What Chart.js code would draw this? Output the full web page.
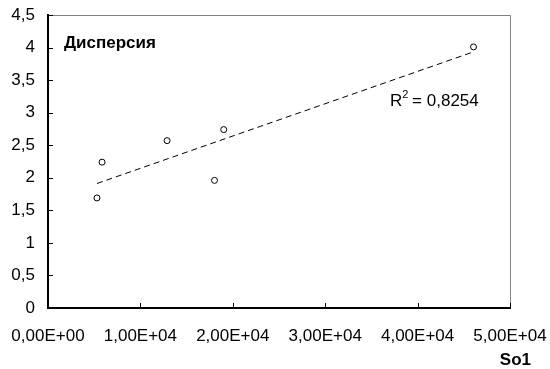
<!DOCTYPE html>
<html>
<head>
<meta charset="utf-8">
<script src="https://cdn.jsdelivr.net/npm/chart.js@4"></script>
<style>
  html, body { margin: 0; padding: 0; background: #fff; }
  #wrap { width: 550px; height: 369px; }
</style>
</head>
<body>
<div id="wrap"><canvas id="myChart" width="550" height="369"></canvas></div>
<script>
'use strict';

// So1 values and the variance (Дисперсия)
let so1 = [5300, 5850, 12890, 18020, 19020, 46050];
let dispersion = [1.69, 2.24, 2.57, 1.96, 2.74, 4.01];
let yTicks = [0, 0.5, 1, 1.5, 2, 2.5, 3, 3.5, 4, 4.5];
let xTicks = [0, 10000, 20000, 30000, 40000, 50000];
let titleText = 'Дисперсия';
let xTitle = 'So1';
let rSquared = '0,8254';

const FONT = "'Liberation Sans', Arial, sans-serif";

// linear trend through the points (like the spreadsheet trendline)
function trendLine(xs, ys) {
    let n = xs.length;
    let mx = xs.reduce((a, b) => a + b, 0) / n;
    let my = ys.reduce((a, b) => a + b, 0) / n;
    let sxy = 0, sxx = 0;
    for (let i = 0; i < n; i++) {
        sxy += (xs[i] - mx) * (ys[i] - my);
        sxx += (xs[i] - mx) * (xs[i] - mx);
    }
    let k = sxy / sxx;
    let b = my - k * mx;
    let x0 = Math.min(...xs);
    let x1 = Math.max(...xs);
    return [{ x: x0, y: k * x0 + b }, { x: x1, y: k * x1 + b }];
}

function sciLabel(v) {
    if (v === 0) return '0,00E+00';
    let e = Math.floor(Math.log10(Math.abs(v)));
    let m = v / Math.pow(10, e);
    let sign = e < 0 ? '-' : '+';
    let ee = String(Math.abs(e)).padStart(2, '0');
    return m.toFixed(2).replace('.', ',') + 'E' + sign + ee;
}

let points = so1.map((x, i) => ({ x: x, y: dispersion[i] }));

// frame, inside ticks and the texts
const decor = {
    id: 'decor',
    beforeDatasetsDraw(chart) {
        let ctx = chart.ctx;
        let a = chart.chartArea;
        ctx.save();
        ctx.strokeStyle = '#808080';
        ctx.lineWidth = 1;
        ctx.beginPath();
        ctx.moveTo(a.left, a.top + 0.5);
        ctx.lineTo(a.right + 0.5, a.top + 0.5);
        ctx.lineTo(a.right + 0.5, a.bottom);
        ctx.stroke();

        ctx.strokeStyle = '#000';
        ctx.lineWidth = 1;
        let xs = chart.scales.x;
        let ys = chart.scales.y;
        ctx.beginPath();
        xTicks.forEach(v => {
            if (v === xTicks[0]) return;
            let px = Math.round(xs.getPixelForValue(v)) + 0.5;
            ctx.moveTo(px, a.bottom);
            ctx.lineTo(px, a.bottom - 5);
        });
        yTicks.forEach(v => {
            if (v === yTicks[0]) return;
            let py = Math.round(ys.getPixelForValue(v)) + 0.5;
            ctx.moveTo(a.left, py);
            ctx.lineTo(a.left + 5, py);
        });
        ctx.stroke();
        ctx.restore();
    },
    afterDraw(chart) {
        let ctx = chart.ctx;
        let a = chart.chartArea;
        ctx.save();
        ctx.fillStyle = '#000';
        ctx.textBaseline = 'alphabetic';
        ctx.textAlign = 'left';

        ctx.font = 'bold 17px ' + FONT;
        ctx.fillText(titleText, a.left + 16, a.top + 33);

        // R² label
        let rx = 390, ry = 106;
        ctx.font = '17px ' + FONT;
        ctx.fillText('R', rx, ry);
        let w = ctx.measureText('R').width;
        ctx.font = '11px ' + FONT;
        ctx.fillText('2', rx + w, ry - 8);
        let w2 = ctx.measureText('2').width;
        ctx.font = '17px ' + FONT;
        ctx.fillText(' = ' + rSquared, rx + w + w2 - 1, ry);

        ctx.font = 'bold 17px ' + FONT;
        ctx.textAlign = 'right';
        ctx.fillText(xTitle, 531, 365);
        ctx.restore();
    }
};

let ctx = document.getElementById('myChart').getContext('2d');
let myChart = new Chart(ctx, {
    type: 'scatter',
    data: {
        datasets: [{
            type: 'line',
            data: trendLine(so1, dispersion),
            borderColor: '#000',
            borderWidth: 1,
            borderDash: [6, 4],
            pointRadius: 0,
            fill: false,
            order: 2
        }, {
            data: points,
            showLine: false,
            pointStyle: 'circle',
            pointRadius: 3,
            pointBorderWidth: 1,
            pointBorderColor: '#000',
            pointBackgroundColor: '#fff',
            order: 1
        }]
    },
    options: {
        responsive: false,
        animation: false,
        devicePixelRatio: 1,
        layout: { padding: { left: 0, top: 15, right: 40, bottom: 0 } },
        plugins: {
            legend: { display: false },
            tooltip: { enabled: false }
        },
        scales: {
            x: {
                type: 'linear',
                min: xTicks[0],
                max: xTicks[xTicks.length - 1],
                afterBuildTicks: scale => { scale.ticks = xTicks.map(v => ({ value: v })); },
                afterFit: scale => {
                    scale.height = 61;
                    scale.paddingLeft = 0;
                    scale.paddingRight = 0;
                },
                grid: { display: false, drawTicks: false },
                border: { display: true, color: '#000', width: 2 },
                ticks: {
                    padding: 18,
                    maxRotation: 0,
                    autoSkip: false,
                    color: '#000',
                    font: { family: FONT, size: 17 },
                    callback: v => sciLabel(v)
                }
            },
            y: {
                type: 'linear',
                min: yTicks[0],
                max: yTicks[yTicks.length - 1],
                afterBuildTicks: scale => { scale.ticks = yTicks.map(v => ({ value: v })); },
                afterFit: scale => {
                    scale.width = 48;
                    scale.paddingTop = 0;
                    scale.paddingBottom = 0;
                },
                grid: { display: false, drawTicks: false },
                border: { display: true, color: '#000', width: 2 },
                ticks: {
                    padding: 13,
                    autoSkip: false,
                    color: '#000',
                    font: { family: FONT, size: 17 },
                    callback: v => String(v).replace('.', ',')
                }
            }
        }
    },
    plugins: [decor]
});
</script>
</body>
</html>
